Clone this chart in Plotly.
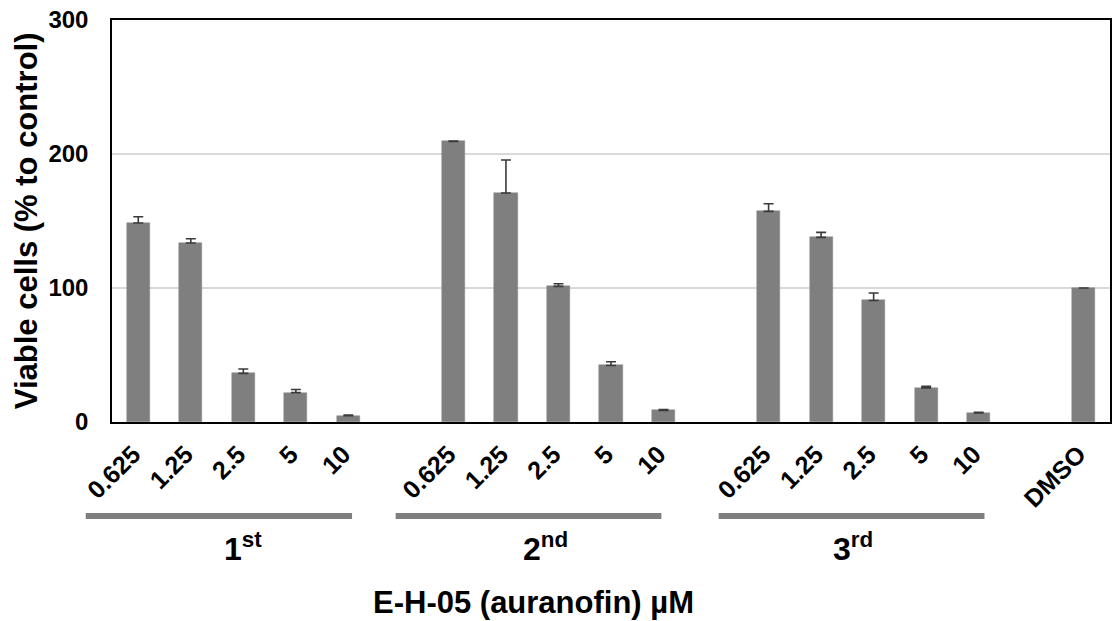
import plotly.graph_objects as go

doses = ["0.625", "1.25", "2.5", "5", "10"]
runs = ["1<sup>st</sup>", "2<sup>nd</sup>", "3<sup>rd</sup>"]
run1_vals = [148.5, 133.6, 36.3, 21.9, 4.7]
run1_err = [4.7, 3.2, 3.3, 2.4, 0.5]
run2_vals = [209.4, 170.9, 101.2, 42.2, 8.7]
run2_err = [0.3, 24.6, 2.0, 2.8, 0.5]
run3_vals = [157.2, 137.8, 90.7, 25.4, 6.7]
run3_err = [5.7, 3.7, 5.6, 1.2, 0.5]
control_label = "DMSO"
control_val = [100.0]
control_err = [0.0]
x_title = "E-H-05 (auranofin) µM"
y_title = "Viable cells (% to control)"
y_ticks = [0, 100, 200, 300]

FONT = "Arial, 'Liberation Sans', sans-serif"
BAR = "#7f7f7f"

# build slot positions: each run is 5 bars followed by an empty slot
xs, ys, errs, labels = [], [], [], []
for g, (v, e) in enumerate([(run1_vals, run1_err), (run2_vals, run2_err), (run3_vals, run3_err)]):
    for i, d in enumerate(doses):
        xs.append(g * 6 + i)
        ys.append(v[i])
        errs.append(e[i])
        labels.append(d)
ctrl_x = 3 * 6
xs.append(ctrl_x)
ys.append(control_val[0])
errs.append(control_err[0])
labels.append(control_label)

X_MIN, X_MAX = -0.5, 18.5


def to_paper(x):
    return (x - X_MIN) / (X_MAX - X_MIN)


fig = go.Figure()
fig.add_trace(go.Bar(
    x=xs, y=ys, width=0.44,
    marker=dict(color=BAR, line=dict(color="#8a8a8a", width=0.5)),
    error_y=dict(type="data", array=errs, arrayminus=[0] * len(errs), symmetric=False,
                 color="#3a3a3a", thickness=1.6, width=5),
    showlegend=False,
))

shapes = []
annotations = []
label_offsets = [2.0, 1.75, 1.6]
line_spans = [(-1.0, 4.07), (-1.1, 3.96), (-0.95, 4.11)]
for g, name in enumerate(runs):
    g0 = g * 6
    a, b = line_spans[g]
    shapes.append(dict(type="line", xref="paper", yref="paper",
                       x0=to_paper(g0 + a), x1=to_paper(g0 + b), y0=-0.234, y1=-0.234,
                       line=dict(color=BAR, width=6)))
    annotations.append(dict(text=name, xref="x", yref="paper", x=g0 + label_offsets[g], y=-0.312,
                            showarrow=False, xanchor="center", yanchor="middle",
                            font=dict(family=FONT, size=32, color="black", weight="bold")))

annotations.append(dict(text=x_title, xref="paper", yref="paper", x=0.422, y=-0.449,
                        showarrow=False, xanchor="center", yanchor="middle",
                        font=dict(family=FONT, size=31, color="black", weight="bold")))
annotations.append(dict(text=y_title, xref="paper", yref="paper", x=-0.086, y=0.5,
                        textangle=-90, showarrow=False, xanchor="center", yanchor="middle",
                        font=dict(family=FONT, size=31, color="black", weight="bold")))

fig.update_layout(
    width=1115, height=621,
    margin=dict(l=112, r=3, t=20, b=199),
    paper_bgcolor="white", plot_bgcolor="white",
    shapes=shapes, annotations=annotations,
    bargap=0,
)
fig.update_xaxes(
    range=[X_MIN, X_MAX], tickmode="array", tickvals=xs, ticktext=labels, tickangle=-45,
    showline=True, linecolor="black", linewidth=1.5, mirror=True, showgrid=False,
    ticks="", ticklabelstandoff=6, ticklabelshift=-5,
    tickfont=dict(family=FONT, size=25, color="black", weight="bold"),
)
fig.update_yaxes(
    range=[0, 300], tickvals=y_ticks, showline=True, linecolor="black", linewidth=1.5,
    mirror=True, showgrid=True, gridcolor="#d9d9d9", gridwidth=1.5, ticks="",
    ticklabelstandoff=17, zeroline=False,
    tickfont=dict(family=FONT, size=24, color="black", weight="bold"),
)

fig.write_html("out.html", config={"displayModeBar": False},
               post_script="document.body.style.margin='0';")
